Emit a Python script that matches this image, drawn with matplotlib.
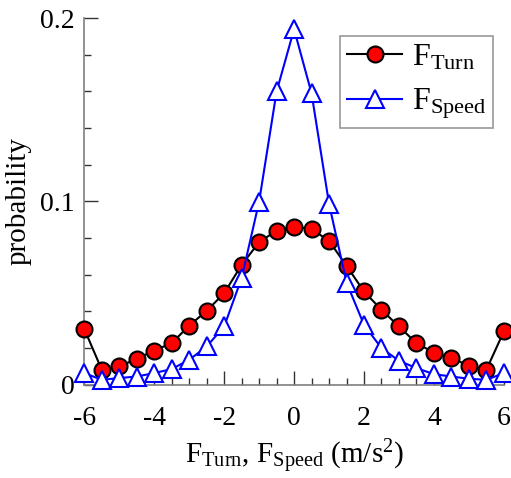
import numpy as np
import matplotlib
matplotlib.use("Agg")
import matplotlib.pyplot as plt
from matplotlib.ticker import MultipleLocator

plt.rcParams['font.family'] = ['Liberation Serif', 'DejaVu Serif']
plt.rcParams['mathtext.fontset'] = 'custom'
plt.rcParams['mathtext.rm'] = 'Liberation Serif'
plt.rcParams['mathtext.it'] = 'Liberation Serif:italic'

# acceleration bins (m/s^2)
bins = np.arange(-6, 6.01, 0.5)

p_turn = [0.0304, 0.0082, 0.0100, 0.0142, 0.0187, 0.0227, 0.0323, 0.0403, 0.0500,
          0.0654, 0.0778, 0.0841, 0.0863, 0.0849, 0.0785, 0.0649, 0.0509, 0.0409,
          0.0318, 0.0227, 0.0176, 0.0146, 0.0104, 0.0082, 0.0291]

p_speed = [0.0064, 0.0027, 0.0037, 0.0045, 0.0064, 0.0086, 0.0136, 0.0209, 0.0318,
           0.0582, 0.0999, 0.1600, 0.1940, 0.1590, 0.0987, 0.0558, 0.0327, 0.0200,
           0.0131, 0.0091, 0.0058, 0.0045, 0.0033, 0.0027, 0.0064]

x_ticks = [-6, -4, -2, 0, 2, 4, 6]
y_ticks = [0, 0.1, 0.2]
y_ticklabels = ['0', '0.1', '0.2']

fig = plt.figure(figsize=(5.11, 4.78), dpi=100)
ax = fig.add_axes([0.165, 0.195, 0.821, 0.767])

ax.plot(bins, p_turn, color='black', lw=1.5, marker='o', ms=11.5,
        markerfacecolor='red', markeredgecolor='black', markeredgewidth=1.5,
        clip_on=False, zorder=3, label=r'F$_{\mathrm{Turn}}$')
ax.plot(bins, p_speed, color='blue', lw=1.5, marker='^', ms=13,
        markerfacecolor='white', markeredgecolor='blue', markeredgewidth=1.5,
        clip_on=False, zorder=4, label=r'F$_{\mathrm{Speed}}$')

ax.set_xlim(-6, 6)
ax.set_ylim(0, 0.2)
ax.set_xticks(x_ticks)
ax.set_xticklabels([str(v) for v in x_ticks])
ax.set_yticks(y_ticks)
ax.set_yticklabels(y_ticklabels)
ax.xaxis.set_minor_locator(MultipleLocator(0.5))
ax.yaxis.set_minor_locator(MultipleLocator(0.02))

for side in ('top', 'right'):
    ax.spines[side].set_visible(False)
for side in ('left', 'bottom'):
    ax.spines[side].set_color('#7f7f7f')
    ax.spines[side].set_linewidth(1.2)

ax.tick_params(which='major', direction='in', length=10, width=1.0,
               color='#333333', labelsize=20)
ax.tick_params(axis='x', which='major', pad=15)
ax.tick_params(axis='y', which='major', pad=7)
ax.tick_params(which='minor', direction='in', length=5, width=1.0,
               color='#333333')

ax.set_xlabel(r'F$_{\mathrm{Turn}}$, F$_{\mathrm{Speed}}$ (m/s$^2$)', fontsize=21,
              labelpad=5)
ax.set_ylabel('probability', fontsize=21, labelpad=6)

leg = ax.legend(loc='upper right', bbox_to_anchor=(0.974, 0.95), fontsize=23,
                frameon=True, fancybox=False, handlelength=1.75,
                handletextpad=0.3, borderpad=0.2, labelspacing=0.45,
                borderaxespad=0.0)
leg.get_frame().set_edgecolor('#7f7f7f')
leg.get_frame().set_linewidth(1.2)

fig.savefig('out.png', dpi=100)
